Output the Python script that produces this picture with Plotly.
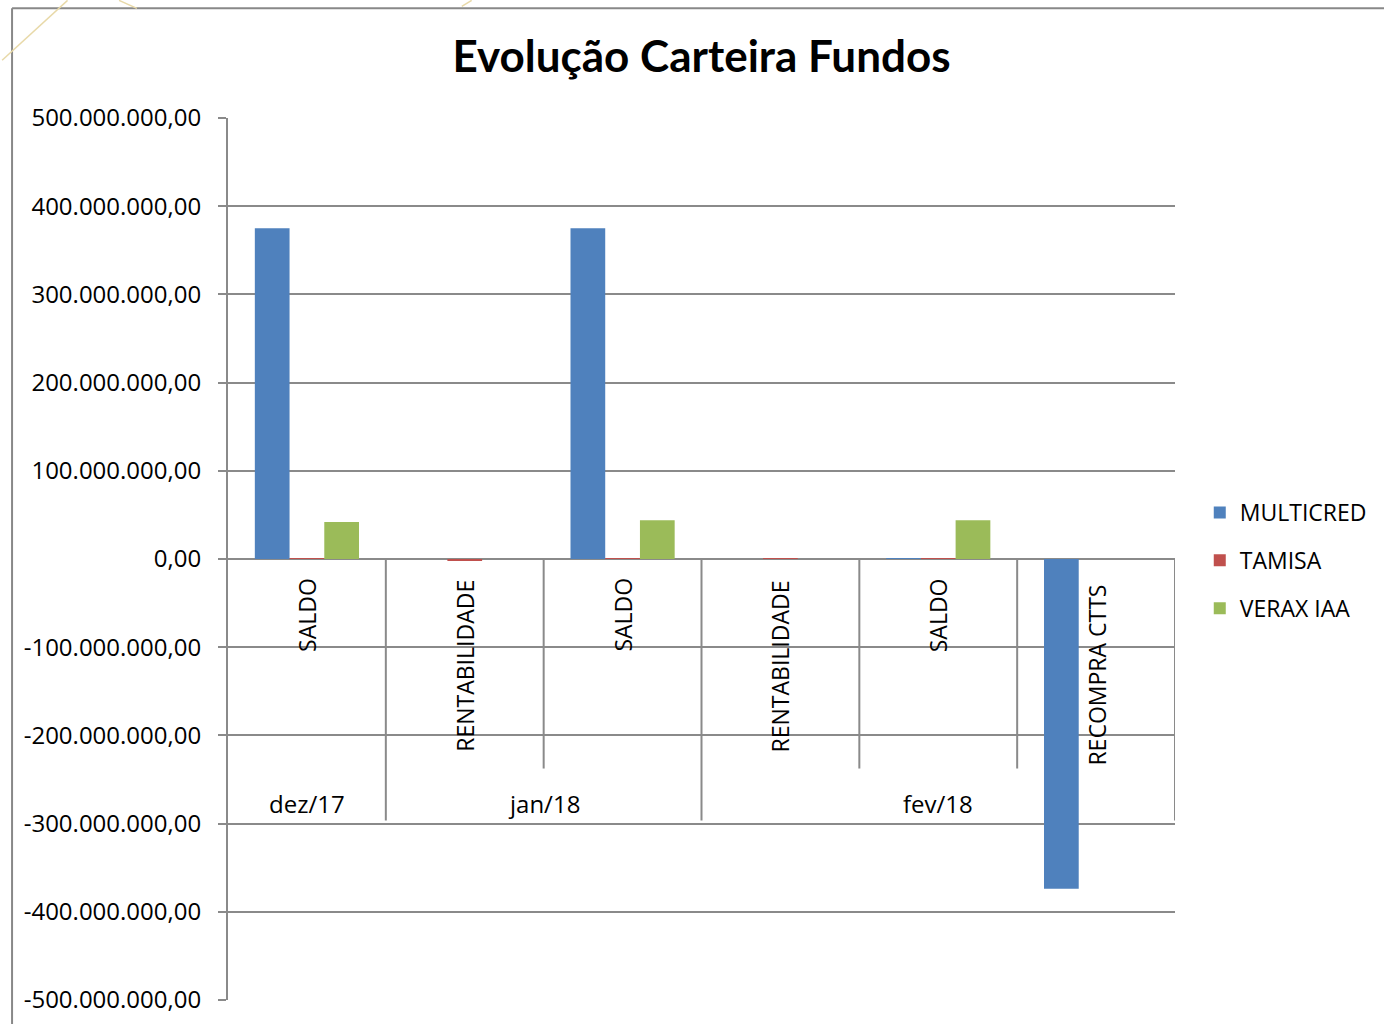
import plotly.graph_objects as go

# ---- data ----
categories = ["SALDO", "RENTABILIDADE", "SALDO", "RENTABILIDADE", "SALDO", "RECOMPRA CTTS"]
months = ["dez/17", "jan/18", "fev/18"]
month_spans = [(0, 0), (1, 2), (3, 5)]  # category index ranges per month
series_names = ["MULTICRED", "TAMISA", "VERAX IAA"]
multicred = [375e6, 0.0, 375e6, 0.0, 0.3e6, -374e6]
tamisa = [0.5e6, -2.0e6, 0.3e6, 0.4e6, 0.3e6, 0.0]
verax = [42e6, 0.0, 44e6, 0.0, 44e6, 0.0]
colors = ["#4F81BD", "#C0504D", "#9BBB59"]
ytick_vals = [500e6, 400e6, 300e6, 200e6, 100e6, 0, -100e6, -200e6, -300e6, -400e6, -500e6]
ytick_text = ["500.000.000,00", "400.000.000,00", "300.000.000,00", "200.000.000,00",
              "100.000.000,00", "0,00", "-100.000.000,00", "-200.000.000,00",
              "-300.000.000,00", "-400.000.000,00", "-500.000.000,00"]

FONT = "Open Sans"
GRID = "#8a8a8a"
W, H = 1384, 1027
# effective drawing size observed in the viewer
WE, HE = 1360, 1019
# target plot area: x 228..1184, y 118..1003
L, T = 228, 118
R = WE - 1184
B = HE - 1003
pw, ph = WE - L - R, HE - T - B

def px_x(p):
    return (p - L) / pw

def px_y(p):
    return (HE - B - p) / ph

def y_val(p):
    # pixel -> data value (0 at pixel 560, 500M at 118)
    return (560 - p) / (560 - 118) * 500e6

xs = list(range(len(categories)))
fig = go.Figure()
for name, vals, col in zip(series_names, [multicred, tamisa, verax], colors):
    fig.add_trace(go.Bar(x=xs, y=vals, name=name, marker=dict(color=col, line=dict(width=0)),
                         legendgroup=name))

shapes = []
# category dividers
for i in range(1, len(categories) + 1):
    b = i - 0.5
    is_group = any(b == e + 0.5 for (_, e) in month_spans)
    yb = y_val(822) if is_group else y_val(770)
    shapes.append(dict(type="line", xref="x", yref="y", x0=b, x1=b, y0=0, y1=yb,
                       line=dict(color=GRID, width=2)))
# outer frame (left and top edges; the rest runs off the page)
shapes.append(dict(type="line", xref="paper", yref="paper",
                   x0=px_x(10), x1=px_x(1400), y0=px_y(8), y1=px_y(8),
                   line=dict(color="#888888", width=2), layer="below"))
shapes.append(dict(type="line", xref="paper", yref="paper",
                   x0=px_x(10), x1=px_x(10), y0=px_y(8), y1=px_y(1027),
                   line=dict(color="#888888", width=2), layer="below"))
# faint watermark lines
for (a, b_, c, d) in [(0, 60, 66, 0), (118, 0, 136, 8), (464, 6, 474, 0)]:
    shapes.append(dict(type="line", xref="paper", yref="paper",
                       x0=px_x(a), y0=px_y(b_), x1=px_x(c), y1=px_y(d),
                       line=dict(color="#E8D9A8", width=1.5), layer="below"))

label_shift = [-17, -19, -17, -19, -17, -24]
annotations = []
for i, c in enumerate(categories):
    annotations.append(dict(x=i, y=0, xref="x", yref="y", text=c, textangle=-90,
                            showarrow=False, xanchor="center", yanchor="top", yshift=label_shift[i],
                            font=dict(family=FONT, size=23, color="black")))
for m, (s, e) in zip(months, month_spans):
    annotations.append(dict(x=(s + e) / 2, y=y_val(805), xref="x", yref="y", text=m,
                            showarrow=False, xanchor="center", yanchor="middle",
                            font=dict(family=FONT, size=24, color="black")))

fig.update_layout(
    width=W, height=H,
    margin=dict(l=L, r=R, t=T, b=B),
    paper_bgcolor="white", plot_bgcolor="white",
    separators=",.",
    title=dict(text="<b>Evolução Carteira Fundos</b>", x=0.5, xref="paper",
               y=(H - 57) / H, yref="container", yanchor="middle",
               font=dict(family="Lato", size=44, color="black")),
    barmode="group", bargap=0.34, bargroupgap=0,
    xaxis=dict(range=[-0.5, len(categories) - 0.5], showticklabels=False, showgrid=False,
               zeroline=False, showline=False, ticks=""),
    yaxis=dict(range=[-500e6, 500e6], tickvals=ytick_vals, ticktext=ytick_text,
               showgrid=True, gridcolor=GRID, gridwidth=2,
               zeroline=True, zerolinecolor=GRID, zerolinewidth=2,
               showline=True, linecolor=GRID, linewidth=2,
               ticks="outside", ticklen=8, tickwidth=2, tickcolor=GRID,
               tickfont=dict(family=FONT, size=24, color="black"), ticklabelstandoff=12),
    legend=dict(x=px_x(1209), y=px_y(562), xanchor="left", yanchor="middle",
                font=dict(family=FONT, size=23, color="black"), tracegroupgap=15,
                bgcolor="rgba(0,0,0,0)"),
    shapes=shapes, annotations=annotations,
)
fig.write_html("out.html", config={"displayModeBar": False},
               post_script="document.documentElement.style.margin='0';document.body.style.margin='0';"
                           "document.documentElement.style.overflow='hidden';document.body.style.overflow='hidden';")
